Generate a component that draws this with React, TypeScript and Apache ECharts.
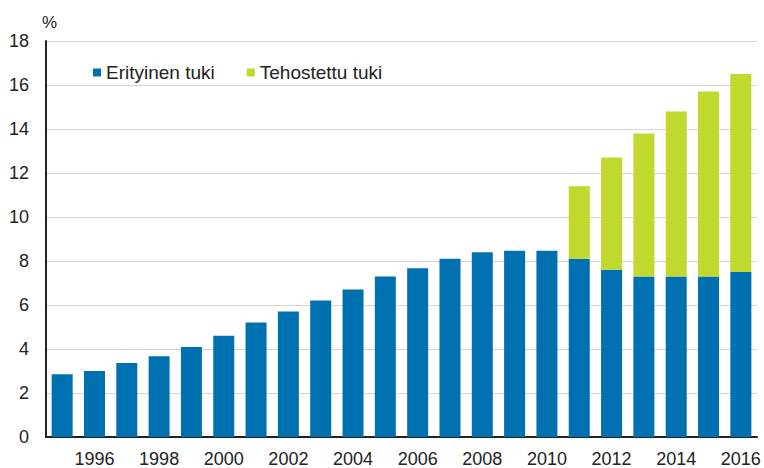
import React, { useEffect, useRef } from "react";
import * as echarts from "echarts";

const years = ["1995","1996","1997","1998","1999","2000","2001","2002","2003","2004","2005","2006","2007","2008","2009","2010","2011","2012","2013","2014","2015","2016"];
const erityinen = [2.85, 3.0, 3.36, 3.67, 4.09, 4.6, 5.2, 5.7, 6.2, 6.7, 7.3, 7.67, 8.1, 8.4, 8.47, 8.47, 8.1, 7.6, 7.3, 7.3, 7.3, 7.5];
const tehostettu = [null, null, null, null, null, null, null, null, null, null, null, null, null, null, null, null, 3.3, 5.1, 6.5, 7.5, 8.4, 9.0];
const yTicks = [0, 2, 4, 6, 8, 10, 12, 14, 16, 18];

export default function App() {
  const ref = useRef<HTMLDivElement>(null);
  useEffect(() => {
    const chart = echarts.init(ref.current!, null, { renderer: "svg" });
    const font = "Liberation Sans, Arial, sans-serif";
    chart.setOption({
      animation: false,
      textStyle: { fontFamily: font },
      grid: { left: 46, right: 7, top: 41, bottom: 31 },
      legend: {
        left: 88,
        top: 58,
        itemWidth: 8,
        itemHeight: 8,
        itemGap: 32,
        icon: "rect",
        textStyle: { fontSize: 19, color: "#222", fontFamily: font },
        data: ["Erityinen tuki", "Tehostettu tuki"],
      },
      graphic: [
        { type: "text", left: 42, top: 14, style: { text: "%", fontSize: 17, fill: "#222", fontFamily: font } },
      ],
      xAxis: {
        type: "category",
        data: years,
        axisLine: { lineStyle: { color: "#222", width: 2 } },
        axisTick: { show: false },
        axisLabel: {
          interval: (i: number) => i % 2 === 1,
          fontSize: 18,
          color: "#222",
          margin: 13,
          fontFamily: font,
        },
      },
      yAxis: {
        type: "value",
        min: yTicks[0],
        max: yTicks[yTicks.length - 1],
        interval: 2,
        axisLine: { show: true, lineStyle: { color: "#222", width: 2 } },
        axisTick: { show: false },
        splitLine: { lineStyle: { color: "#d4d4d4", width: 1 } },
        axisLabel: { fontSize: 18, color: "#222", margin: 17, fontFamily: font },
      },
      series: [
        {
          name: "Erityinen tuki",
          type: "bar",
          stack: "a",
          data: erityinen,
          barCategoryGap: "35%",
          itemStyle: { color: "#0071b0" },
        },
        {
          name: "Tehostettu tuki",
          type: "bar",
          stack: "a",
          data: tehostettu,
          itemStyle: { color: "#c1d82f" },
        },
      ],
    });
    return () => chart.dispose();
  }, []);
  return <div ref={ref} style={{ width: 764, height: 468, position: "absolute", left: 0, top: 0 }} />;
}
